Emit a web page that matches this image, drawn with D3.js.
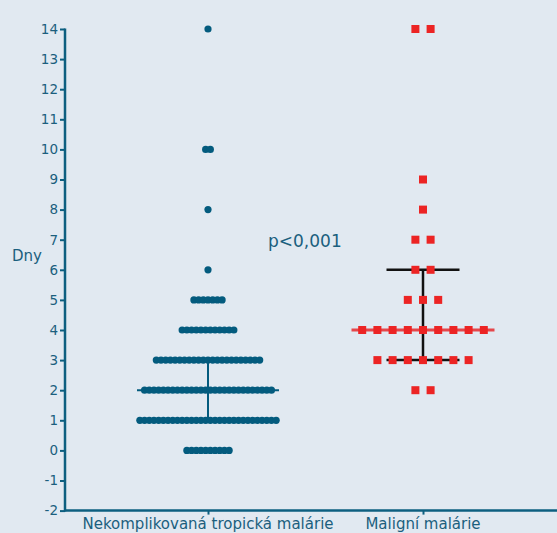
<!DOCTYPE html>
<html>
<head>
<meta charset="utf-8">
<script src="https://cdn.jsdelivr.net/npm/d3@7"></script>
<style>
  html, body { margin: 0; padding: 0; background: #e1e9f1; }
  svg { display: block; }
</style>
</head>
<body>
<svg id="chart" width="557" height="533"></svg>
<script>
// ---- data ----
const categories = ["Nekomplikovaná tropická malárie", "Maligní malárie"];
const yTicks = [-2, -1, 0, 1, 2, 3, 4, 5, 6, 7, 8, 9, 10, 11, 12, 13, 14];
// group 1: values (days) and how many patients had that value
const group1Values = [0, 1, 2, 3, 4, 5, 6, 8, 10, 14];
const group1Counts = [10, 30, 28, 23, 12, 7, 1, 1, 2, 1];
// group 2
const group2Values = [2, 3, 4, 5, 6, 7, 8, 9, 14];
const group2Counts = [2, 7, 9, 3, 2, 2, 1, 1, 2];
// median, lower quartile, upper quartile
const group1Stats = [2, 1, 3];
const group2Stats = [4, 3, 6];
const pLabel = "p<0,001";
const yLabel = "Dny";

// ---- drawing ----
const svg = d3.select("#chart");
const W = 557, H = 533;
const axisColor = "#0d5f80";
const textColor = "#1b5f7e";
const dotColor = "#035b7e";
const red = "#ec2424";

const y = d3.scaleLinear().domain([-2, 14]).range([510.6, 29]);
const x = d3.scalePoint().domain(categories).range([208, 423]);
const axisX = 65, axisY = y(-2);

function expand(values, counts) {
  const out = [];
  values.forEach((v, i) => {
    const n = counts[i];
    for (let k = 0; k < n; k++) out.push({ v, k, n });
  });
  return out;
}

// group 1 lines
const g1 = svg.append("g");
const cx1 = x(categories[0]);
g1.append("line")
  .attr("x1", cx1 - 71).attr("x2", cx1 + 71)
  .attr("y1", y(group1Stats[0])).attr("y2", y(group1Stats[0]))
  .attr("stroke", dotColor).attr("stroke-width", 2);
[group1Stats[1], group1Stats[2]].forEach(q => {
  g1.append("line")
    .attr("x1", cx1 - 36).attr("x2", cx1 + 36)
    .attr("y1", y(q)).attr("y2", y(q))
    .attr("stroke", dotColor).attr("stroke-width", 2);
});
g1.append("line")
  .attr("x1", cx1).attr("x2", cx1)
  .attr("y1", y(group1Stats[1])).attr("y2", y(group1Stats[2]))
  .attr("stroke", dotColor).attr("stroke-width", 2);

g1.selectAll("circle")
  .data(expand(group1Values, group1Counts))
  .join("circle")
  .attr("cx", d => cx1 + (d.k - (d.n - 1) / 2) * 4.7)
  .attr("cy", d => y(d.v))
  .attr("r", 3.6)
  .attr("fill", dotColor);

// group 2 lines
const g2 = svg.append("g");
const cx2 = x(categories[1]);
g2.append("line")
  .attr("x1", cx2 - 71.5).attr("x2", cx2 + 71.5)
  .attr("y1", y(group2Stats[0])).attr("y2", y(group2Stats[0]))
  .attr("stroke", "#e5474b").attr("stroke-width", 3);
[group2Stats[1], group2Stats[2]].forEach(q => {
  g2.append("line")
    .attr("x1", cx2 - 36.5).attr("x2", cx2 + 36.5)
    .attr("y1", y(q)).attr("y2", y(q))
    .attr("stroke", "#111").attr("stroke-width", 2.5);
});
g2.append("line")
  .attr("x1", cx2).attr("x2", cx2)
  .attr("y1", y(group2Stats[1])).attr("y2", y(group2Stats[2]))
  .attr("stroke", "#111").attr("stroke-width", 2.5);

g2.selectAll("rect")
  .data(expand(group2Values, group2Counts))
  .join("rect")
  .attr("x", d => cx2 + (d.k - (d.n - 1) / 2) * 15.2 - 4)
  .attr("y", d => y(d.v) - 4)
  .attr("width", 8).attr("height", 8)
  .attr("fill", red);

// y axis
const yAxis = svg.append("g")
  .attr("transform", `translate(${axisX},0)`)
  .call(d3.axisLeft(y).tickValues(yTicks).tickFormat(d => String(d))
        .tickSize(5).tickSizeOuter(0).tickPadding(2));
yAxis.select(".domain").remove();
yAxis.selectAll(".tick line").attr("stroke", axisColor).attr("stroke-width", 2);
yAxis.selectAll(".tick text")
  .attr("fill", textColor)
  .style("font-family", "DejaVu Sans")
  .style("font-size", "13.5px");
svg.append("line")
  .attr("x1", axisX).attr("x2", axisX)
  .attr("y1", y(14) - 0.5).attr("y2", axisY + 1)
  .attr("stroke", axisColor).attr("stroke-width", 2.5);

// x axis
const xAxis = svg.append("g")
  .attr("transform", `translate(0,${axisY})`)
  .call(d3.axisBottom(x).tickSize(4).tickSizeOuter(0).tickPadding(6));
xAxis.select(".domain").remove();
xAxis.selectAll(".tick line").attr("stroke", axisColor).attr("stroke-width", 2);
xAxis.selectAll(".tick text").remove();
svg.append("line")
  .attr("x1", axisX - 1).attr("x2", W)
  .attr("y1", axisY).attr("y2", axisY)
  .attr("stroke", axisColor).attr("stroke-width", 2.5);

svg.selectAll(".catlabel")
  .data(categories)
  .join("text")
  .attr("class", "catlabel")
  .attr("x", d => x(d))
  .attr("y", 528.5)
  .attr("text-anchor", "middle")
  .attr("fill", textColor)
  .style("font-family", "DejaVu Sans")
  .style("font-size", "15px")
  .text(d => d);

// labels
svg.append("text")
  .attr("x", 12).attr("y", 261)
  .attr("fill", textColor)
  .style("font-family", "DejaVu Sans")
  .style("font-size", "15px")
  .text(yLabel);

svg.append("text")
  .attr("x", 268).attr("y", 247)
  .attr("fill", textColor)
  .style("font-family", "DejaVu Sans")
  .style("font-size", "17px")
  .text(pLabel);
</script>
</body>
</html>
